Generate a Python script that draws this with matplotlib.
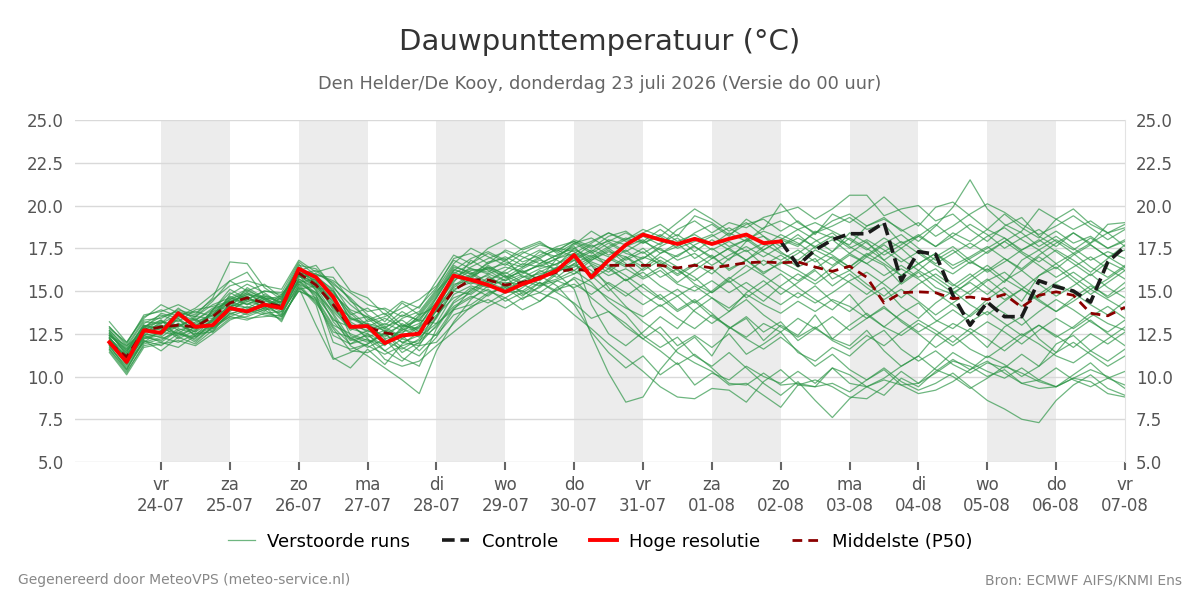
import numpy as np
import pandas as pd
import matplotlib
matplotlib.use('Agg')
import matplotlib.pyplot as plt
import matplotlib.dates as mdates

# ─── Data (6-hourly from 23-07 06:00)
#
start = '2026-07-23 06:00'
n_steps = 60

hres = [12.0, 10.85, 12.7, 12.55, 13.7, 12.9, 13.0, 14.0, 13.8, 14.2,
        14.0, 16.3, 15.8, 14.65, 12.9, 12.95, 11.95, 12.4, 12.5, 14.2,
        15.9, 15.65, 15.35, 14.95, 15.4, 15.75, 16.2, 17.1, 15.8, 16.8,
        17.7, 18.3, 18.0, 17.75, 18.05, 17.75, 18.05, 18.3, 17.8, 17.9]

# controle starts where the high resolution run stops (02-08 00:00)
controle_offset = 39
controle = [17.9, 16.5, 17.4, 18.0, 18.35, 18.35, 19.0, 15.6, 17.3, 17.15,
            14.75, 13.0, 14.35, 13.5, 13.5, 15.6, 15.25, 15.0, 14.35, 16.7,
            17.6]

p50 = [11.95, 11.15, 12.7, 12.9, 13.0, 12.9, 13.5, 14.3, 14.6, 14.3,
       14.1, 16.05, 15.35, 14.2, 12.9, 12.9, 12.55, 12.4, 12.55, 13.7,
       15.05, 15.65, 15.65, 15.35, 15.5, 15.8, 16.1, 16.3, 16.15, 16.5,
       16.5, 16.5, 16.5, 16.35, 16.5, 16.35, 16.5, 16.65, 16.7, 16.65,
       16.7, 16.4, 16.15, 16.45, 15.8, 14.3, 14.9, 14.95, 14.9, 14.55,
       14.65, 14.5, 14.8, 14.05, 14.75, 14.95, 14.75, 13.7, 13.55, 14.05]

members = [
    [12.3, 11.0, 12.5, 13.2, 13.0, 12.6, 13.8, 14.5, 14.9, 14.2,
     14.4, 16.2, 15.9, 15.0, 13.4, 13.1, 12.8, 12.2, 12.9, 14.6,
     16.2, 16.0, 16.4, 15.8, 16.1, 16.5, 16.9, 17.4, 17.0, 17.6,
     18.1, 17.8, 18.2, 17.5, 17.9, 18.3, 17.6, 18.0, 18.5, 18.1,
     17.7, 18.4, 18.8, 19.3, 18.6, 18.9, 17.8, 18.2, 17.6, 18.4,
     17.9, 18.6, 18.1, 17.4, 17.9, 18.5, 17.8, 18.2, 17.5, 18.0],
    [11.8, 10.4, 12.2, 12.4, 13.4, 12.3, 13.1, 14.0, 15.2, 14.6,
     13.9, 15.7, 15.1, 13.2, 12.1, 12.4, 11.8, 12.9, 13.3, 13.1,
     14.8, 15.3, 15.0, 14.6, 15.2, 15.9, 16.4, 16.0, 16.8, 17.3,
     17.0, 16.4, 17.2, 17.8, 16.9, 17.5, 16.8, 17.9, 18.2, 17.3,
     16.6, 17.4, 16.9, 16.2, 17.0, 16.5, 15.4, 16.1, 15.2, 14.8,
     15.6, 16.3, 15.5, 16.8, 17.4, 16.6, 17.2, 16.4, 15.8, 16.5],
    [12.6, 11.5, 13.0, 12.8, 12.5, 13.2, 13.6, 14.6, 14.2, 14.8,
     14.3, 15.5, 14.8, 12.0, 11.6, 11.9, 12.6, 11.4, 12.0, 13.9,
     16.1, 15.7, 16.5, 15.9, 14.8, 15.2, 16.0, 15.1, 12.4, 10.2,
     8.5, 8.8, 10.4, 11.6, 12.3, 11.2, 12.8, 13.4, 12.1, 13.0,
     12.4, 13.6, 12.2, 11.8, 12.7, 11.5, 10.6, 11.2, 12.4, 13.1,
     12.6, 11.7, 12.9, 13.5, 12.2, 11.4, 12.6, 13.3, 12.5, 11.8],
    [12.1, 10.9, 12.8, 13.0, 12.2, 12.7, 13.9, 14.4, 14.0, 14.1,
     14.6, 16.4, 15.6, 14.8, 13.9, 13.5, 12.9, 13.3, 12.6, 14.2,
     15.5, 16.8, 16.2, 15.6, 16.0, 16.6, 17.1, 17.6, 16.5, 15.2,
     14.1, 13.2, 12.5, 11.4, 10.8, 10.3, 9.5, 9.6, 8.9, 8.2,
     9.5, 9.4, 9.6, 9.1, 9.8, 10.4, 9.5, 9.6, 10.2, 10.9,
     10.6, 10.0, 10.4, 9.6, 9.3, 9.4, 9.9, 9.7, 9.0, 8.8],
    [12.4, 11.6, 12.9, 13.5, 13.8, 13.0, 13.3, 14.8, 15.4, 14.9,
     14.2, 16.0, 16.2, 15.3, 13.8, 13.0, 12.7, 12.0, 11.8, 13.5,
     15.0, 15.8, 16.7, 16.9, 15.8, 16.3, 16.6, 17.2, 17.8, 18.4,
     17.9, 18.2, 17.7, 18.6, 19.1, 18.4, 19.0, 18.7, 19.3, 19.6,
     19.9, 19.2, 19.8, 20.6, 20.6, 19.4, 19.8, 20.0, 19.1, 19.5,
     18.6, 17.9, 18.8, 19.3, 18.2, 17.6, 18.4, 17.8, 18.9, 19.0],
    [11.5, 10.2, 11.9, 12.2, 12.6, 12.0, 12.9, 13.6, 14.1, 13.7,
     13.8, 15.2, 14.4, 12.6, 12.3, 11.7, 12.2, 11.1, 10.6, 12.8,
     14.3, 14.9, 15.6, 16.2, 16.9, 17.4, 16.8, 16.2, 16.9, 17.5,
     16.8, 17.3, 16.5, 17.1, 17.6, 17.0, 16.3, 16.8, 17.4, 18.0,
     17.6, 18.5, 18.1, 17.7, 18.8, 19.2, 18.6, 17.9, 18.8, 19.9,
     21.5, 19.8, 18.9, 18.4, 17.6, 18.2, 17.5, 16.8, 17.3, 16.9],
    [12.0, 11.3, 12.4, 12.6, 13.1, 12.4, 13.4, 14.1, 14.3, 13.8,
     14.7, 16.6, 15.0, 13.6, 11.8, 11.2, 10.5, 9.8, 9.0, 11.5,
     13.2, 14.5, 15.3, 15.9, 15.4, 16.2, 15.8, 16.6, 17.1, 16.7,
     17.4, 16.6, 15.8, 16.3, 15.4, 14.9, 15.6, 14.6, 15.3, 16.0,
     15.2, 14.5, 13.9, 14.8, 13.6, 12.9, 13.7, 14.3, 13.3, 12.8,
     13.6, 14.5, 15.2, 14.4, 15.9, 16.4, 15.6, 14.8, 15.5, 16.2],
    [12.9, 11.8, 13.3, 13.4, 13.9, 13.6, 14.6, 16.7, 16.6, 15.2,
     14.5, 16.5, 16.3, 15.4, 14.6, 13.6, 13.0, 13.8, 13.2, 14.6,
     16.2, 16.9, 17.3, 16.8, 17.5, 17.9, 17.2, 17.8, 18.1, 17.5,
     18.0, 18.4, 18.9, 18.2, 19.4, 19.0, 18.3, 18.9, 19.2, 18.5,
     19.1, 18.3, 19.5, 19.0, 19.7, 20.5, 19.6, 18.8, 19.9, 20.2,
     19.4, 18.6, 19.5, 18.7, 18.1, 19.2, 19.8, 18.9, 18.4, 18.7],
    [11.7, 10.6, 12.1, 11.5, 12.3, 11.9, 12.7, 13.7, 13.4, 13.5,
     13.6, 15.4, 14.9, 13.8, 12.8, 12.5, 11.5, 12.2, 11.9, 13.0,
     14.1, 14.7, 14.3, 14.9, 15.0, 14.4, 15.2, 15.7, 14.6, 13.8,
     13.1, 12.2, 12.9, 11.8, 12.4, 11.7, 12.5, 11.3, 11.9, 12.6,
     11.4, 10.9, 11.7, 11.2, 12.1, 12.7, 11.6, 10.9, 11.5, 10.7,
     10.2, 10.8, 10.5, 11.3, 10.6, 11.9, 12.4, 11.5, 10.9, 11.6],
    [12.2, 11.1, 12.6, 12.9, 13.3, 12.8, 13.2, 14.2, 14.0, 14.5,
     13.9, 16.1, 15.8, 14.9, 13.7, 12.8, 12.4, 12.6, 12.9, 13.8,
     15.4, 15.6, 15.9, 15.2, 15.8, 16.0, 16.3, 16.5, 16.0, 16.9,
     16.4, 17.0, 16.6, 15.9, 16.5, 17.1, 16.2, 16.8, 16.0, 16.7,
     16.2, 15.6, 16.4, 17.1, 16.6, 15.9, 16.5, 15.8, 16.3, 15.4,
     14.8, 15.6, 16.1, 15.3, 14.6, 15.4, 14.9, 14.2, 13.6, 14.4],
    [12.5, 11.4, 13.1, 13.6, 13.2, 13.9, 14.1, 14.4, 14.7, 14.0,
     14.8, 15.9, 15.3, 14.1, 12.7, 13.3, 13.7, 12.8, 13.5, 14.8,
     16.4, 16.1, 15.5, 15.1, 15.6, 15.3, 16.1, 16.8, 17.3, 16.4,
     15.6, 16.3, 17.0, 16.4, 15.8, 14.9, 15.7, 16.5, 15.9, 15.2,
     14.6, 15.3, 14.4, 13.8, 14.6, 15.2, 14.1, 13.4, 14.3, 15.0,
     14.2, 13.6, 14.4, 15.1, 14.5, 13.8, 14.6, 15.3, 14.7, 15.5],
    [11.9, 10.7, 12.3, 12.1, 12.8, 12.5, 13.0, 13.8, 14.5, 14.3,
     13.5, 15.0, 14.6, 13.0, 12.5, 12.1, 11.9, 12.8, 12.3, 13.1,
     13.9, 15.1, 15.6, 16.1, 15.5, 15.9, 15.3, 14.2, 12.6, 11.4,
     10.5, 11.2, 10.1, 10.8, 9.5, 10.2, 9.8, 10.6, 10.0, 9.6,
     10.3, 9.6, 10.5, 10.1, 9.4, 9.9, 10.6, 11.2, 10.4, 10.0,
     9.3, 9.9, 10.6, 10.2, 9.7, 9.4, 10.1, 10.8, 9.9, 10.3],
    [13.2, 12.0, 13.5, 13.9, 13.5, 14.0, 14.8, 15.6, 15.0, 14.6,
     14.1, 15.8, 16.0, 15.6, 14.9, 14.2, 13.9, 13.0, 12.8, 14.0,
     15.7, 16.4, 16.9, 17.3, 16.7, 17.1, 17.6, 17.9, 17.3, 18.0,
     17.7, 17.2, 17.8, 18.3, 17.6, 16.9, 17.5, 18.0, 17.3, 16.8,
     17.4, 16.7, 17.3, 18.1, 17.5, 16.8, 15.9, 16.6, 17.2, 16.5,
     17.0, 17.6, 16.9, 16.3, 17.1, 17.8, 18.4, 17.7, 17.0, 17.4],
    [12.3, 10.8, 12.0, 12.7, 12.9, 13.4, 12.6, 13.9, 14.4, 14.1,
     13.2, 15.3, 14.2, 11.1, 10.5, 11.6, 10.7, 11.9, 12.6, 12.4,
     13.6, 14.0, 14.8, 15.3, 14.7, 15.5, 15.0, 15.8, 15.3, 14.6,
     14.0, 13.5, 14.2, 13.4, 12.8, 13.6, 12.9, 12.3, 13.1, 12.6,
     13.4, 12.8, 12.2, 13.0, 13.7, 12.9, 12.4, 13.1, 12.5, 11.8,
     12.5, 13.2, 12.6, 11.9, 12.7, 13.4, 12.8, 13.5, 14.1, 13.4],
    [12.0, 11.2, 12.9, 12.5, 13.5, 13.1, 13.7, 14.3, 14.8, 14.4,
     14.2, 16.3, 15.5, 14.5, 13.4, 12.9, 12.3, 13.1, 12.5, 13.9,
     15.8, 16.3, 16.0, 15.6, 16.3, 16.8, 16.5, 17.5, 17.9, 18.4,
     18.0, 18.6, 18.2, 19.0, 19.8, 19.2, 18.5, 19.0, 18.2, 17.6,
     18.3, 17.5, 18.0, 17.2, 17.9, 16.8, 17.5, 16.6, 17.2, 16.3,
     16.9, 17.5, 18.1, 17.3, 16.7, 17.4, 16.8, 16.1, 16.9, 17.7],
    [11.6, 10.3, 11.8, 12.0, 11.7, 12.4, 12.9, 13.5, 13.9, 13.6,
     13.4, 15.1, 15.3, 14.0, 13.1, 12.2, 11.0, 10.6, 10.9, 11.8,
     12.6, 13.4, 14.1, 14.6, 13.9, 14.4, 15.1, 15.4, 14.8, 15.5,
     14.9, 14.2, 14.8, 13.9, 14.5, 13.7, 12.8, 13.5, 12.6, 13.2,
     12.1, 12.8, 13.5, 12.7, 13.4, 14.1, 13.2, 12.5, 11.7, 12.4,
     11.6, 11.1, 11.8, 12.5, 11.9, 11.2, 10.8, 11.5, 12.2, 12.9],
    [12.7, 11.7, 13.2, 13.1, 14.0, 13.3, 13.9, 15.1, 14.5, 15.0,
     14.9, 16.7, 15.9, 15.8, 14.4, 13.8, 14.0, 13.5, 14.1, 15.2,
     16.9, 17.2, 16.6, 17.0, 16.5, 17.3, 17.0, 17.7, 18.5, 17.9,
     17.3, 17.9, 17.4, 17.0, 17.7, 18.2, 18.7, 18.1, 17.4, 18.0,
     18.6, 18.0, 17.3, 18.4, 17.8, 17.1, 17.7, 18.3, 17.6, 18.2,
     18.9, 18.3, 17.5, 18.1, 18.6, 17.9, 17.2, 17.8, 18.4, 17.6],
    [12.2, 10.9, 12.4, 13.0, 12.5, 12.2, 13.3, 14.0, 13.6, 14.0,
     14.4, 15.6, 14.7, 13.4, 12.2, 12.7, 12.1, 11.6, 12.2, 13.4,
     15.1, 15.5, 15.2, 15.7, 16.2, 15.6, 16.4, 16.8, 16.2, 15.4,
     14.7, 15.4, 14.6, 13.8, 14.4, 13.5, 12.9, 12.2, 11.6, 12.3,
     11.5, 10.6, 11.3, 10.4, 9.8, 10.5, 9.7, 9.2, 9.6, 10.2,
     9.4, 8.6, 8.1, 7.5, 7.3, 8.6, 9.5, 10.1, 9.3, 8.9],
    [12.8, 12.0, 13.4, 14.2, 13.7, 13.5, 14.4, 15.6, 16.1, 14.7,
     14.3, 15.9, 15.2, 15.0, 13.6, 14.0, 13.2, 14.3, 13.6, 14.9,
     16.5, 16.0, 16.6, 17.4, 17.0, 16.6, 17.1, 17.5, 16.8, 17.4,
     16.6, 15.8, 16.4, 15.5, 16.2, 16.9, 17.5, 16.8, 16.1, 16.6,
     17.2, 17.9, 18.4, 17.6, 17.0, 17.7, 16.9, 16.2, 17.0, 17.6,
     16.8, 16.1, 16.7, 17.4, 18.0, 17.3, 16.6, 15.9, 16.7, 16.2],
    [11.4, 10.1, 11.7, 11.9, 12.1, 11.8, 12.5, 13.3, 13.7, 14.0,
     13.7, 15.4, 14.3, 12.8, 11.5, 11.4, 11.9, 12.4, 11.5, 12.5,
     14.0, 14.6, 15.1, 14.4, 14.9, 15.5, 14.9, 14.3, 13.4, 13.8,
     12.9, 12.2, 11.5, 10.7, 11.3, 10.5, 9.6, 9.5, 10.2, 9.5,
     9.6, 9.4, 10.5, 9.6, 9.4, 9.8, 9.5, 9.0, 9.2, 9.7,
     10.4, 10.9, 10.2, 9.6, 9.8, 10.5, 9.8, 9.4, 9.9, 9.5],
    [12.4, 11.5, 12.7, 13.3, 12.7, 13.0, 13.6, 14.7, 14.2, 14.6,
     14.1, 16.0, 15.4, 14.4, 13.2, 12.6, 12.9, 12.3, 13.0, 14.4,
     15.9, 15.4, 16.0, 16.4, 16.1, 15.7, 16.9, 17.2, 16.6, 16.1,
     16.9, 17.5, 16.7, 16.0, 16.6, 16.0, 16.9, 17.4, 16.5, 17.1,
     16.4, 16.9, 15.7, 16.2, 15.4, 14.7, 15.5, 16.2, 15.6, 14.9,
     15.5, 14.8, 15.6, 16.2, 15.4, 14.7, 15.3, 16.0, 15.2, 14.6],
    [12.6, 11.2, 12.6, 12.8, 13.6, 13.8, 13.5, 14.5, 15.0, 15.4,
     14.6, 16.2, 16.5, 15.2, 14.2, 13.4, 12.6, 13.4, 13.8, 15.1,
     16.6, 17.5, 17.0, 16.5, 17.2, 17.7, 17.4, 17.9, 17.5, 18.2,
     18.5, 17.8, 18.3, 17.7, 18.4, 18.9, 18.2, 19.2, 18.6, 20.1,
     19.0, 18.4, 19.1, 19.5, 18.8, 19.3, 18.5, 19.0, 18.2, 18.8,
     19.5, 20.1, 19.6, 18.9, 18.3, 18.8, 19.4, 18.7, 18.0, 18.6],
    [12.1, 10.8, 12.5, 12.3, 13.0, 13.3, 12.8, 13.7, 13.9, 14.3,
     14.0, 15.5, 15.7, 14.6, 12.4, 12.0, 12.5, 13.0, 12.7, 13.6,
     14.6, 15.0, 15.8, 15.3, 15.0, 15.7, 16.2, 16.4, 17.0, 16.5,
     15.9, 15.2, 14.5, 15.1, 14.3, 15.0, 15.8, 15.1, 14.4, 15.3,
     16.0, 15.4, 16.1, 15.5, 14.8, 15.6, 16.3, 15.7, 14.9, 14.2,
     13.5, 14.3, 13.7, 13.0, 13.8, 14.5, 13.9, 13.2, 12.6, 13.3],
    [11.9, 11.0, 12.2, 12.6, 12.4, 12.9, 13.2, 14.0, 14.6, 14.2,
     13.8, 15.6, 14.9, 13.3, 12.9, 13.1, 12.2, 12.5, 13.6, 14.1,
     15.2, 15.9, 16.3, 15.8, 16.4, 16.9, 16.1, 16.6, 15.9, 15.0,
     15.7, 14.8, 14.1, 14.7, 13.8, 13.1, 13.8, 14.5, 13.6, 12.9,
     12.3, 12.9, 12.1, 11.6, 12.4, 11.8, 12.6, 13.3, 12.7, 12.0,
     12.8, 12.2, 11.5, 12.3, 13.0, 12.4, 11.7, 12.5, 11.9, 12.6],
    [12.5, 11.3, 12.8, 13.7, 13.4, 12.7, 13.9, 14.9, 14.4, 14.7,
     14.5, 16.4, 15.4, 14.2, 13.5, 12.9, 13.4, 12.9, 13.7, 15.0,
     16.0, 16.6, 17.2, 16.7, 16.4, 17.0, 17.4, 17.0, 17.7, 17.1,
     17.6, 18.0, 17.2, 17.6, 18.1, 17.4, 17.9, 17.3, 17.8, 17.2,
     16.8, 17.6, 17.1, 16.4, 17.1, 17.8, 18.3, 17.5, 16.8, 17.4,
     16.6, 17.3, 17.9, 17.2, 16.5, 15.8, 16.4, 17.0, 16.3, 15.7],
    [12.3, 11.1, 12.3, 12.5, 13.1, 12.6, 13.3, 14.2, 14.7, 13.9,
     14.1, 15.9, 15.5, 13.9, 13.0, 12.3, 12.7, 12.0, 12.4, 13.5,
     15.3, 16.0, 15.4, 15.0, 15.6, 16.1, 16.6, 17.0, 14.2, 12.5,
     11.8, 12.6, 13.5, 12.8, 13.9, 14.6, 13.8, 14.9, 15.6, 14.8,
     15.5, 16.2, 15.3, 16.0, 15.2, 14.5, 15.1, 14.4, 13.6, 14.3,
     15.0, 15.7, 14.9, 14.1, 14.8, 15.5, 16.1, 15.4, 14.6, 15.2],
    [12.7, 11.6, 13.0, 12.7, 13.8, 13.5, 14.2, 14.6, 15.1, 14.5,
     14.7, 16.3, 15.8, 15.1, 13.3, 13.5, 12.8, 13.6, 13.3, 14.7,
     16.3, 15.8, 16.4, 16.0, 16.6, 16.4, 16.9, 17.8, 17.2, 17.8,
     17.2, 16.9, 17.6, 18.1, 17.3, 18.0, 17.4, 16.8, 17.6, 18.3,
     17.8, 17.1, 16.5, 17.2, 16.6, 17.3, 17.9, 17.2, 16.5, 16.0,
     16.7, 16.2, 16.9, 16.2, 17.0, 16.3, 17.1, 17.7, 17.0, 16.4],
    [11.8, 10.5, 12.0, 12.3, 12.0, 12.5, 12.6, 13.4, 13.5, 13.9,
     13.3, 15.2, 13.0, 11.0, 11.4, 11.9, 12.5, 11.7, 11.2, 12.3,
     13.9, 14.2, 14.9, 15.2, 14.5, 15.3, 15.6, 15.2, 15.7, 16.3,
     15.6, 16.1, 15.3, 14.7, 15.3, 14.6, 14.0, 14.8, 14.2, 13.7,
     14.4, 13.8, 14.5, 14.1, 13.4, 14.0, 13.3, 12.6, 13.2, 13.9,
     13.2, 13.8, 13.1, 12.4, 13.0, 12.3, 12.9, 13.7, 13.1, 12.7],
    [12.9, 11.9, 13.6, 13.8, 14.2, 13.7, 14.5, 15.3, 15.6, 15.3,
     15.1, 16.8, 16.1, 16.4, 15.0, 14.6, 13.6, 14.4, 14.0, 15.6,
     17.1, 16.6, 17.5, 18.0, 17.4, 17.8, 17.3, 18.0, 17.6, 17.9,
     18.4, 17.9, 18.6, 17.9, 18.3, 17.7, 18.4, 17.9, 18.7, 19.1,
     18.6, 19.0, 18.5, 18.0, 17.4, 18.1, 17.5, 18.2, 18.9, 18.1,
     17.5, 18.2, 18.7, 18.0, 17.4, 18.0, 17.4, 18.1, 17.5, 17.9],
    [12.0, 10.7, 12.4, 12.0, 12.7, 12.1, 12.9, 13.9, 13.8, 14.2,
     13.6, 15.7, 15.2, 13.7, 12.2, 11.8, 11.3, 11.8, 12.1, 12.9,
     14.4, 15.2, 14.7, 15.4, 15.9, 15.4, 15.7, 16.2, 15.5, 14.4,
     13.6, 12.4, 11.7, 12.3, 11.2, 10.6, 11.4, 10.5, 9.6, 8.9,
     9.7, 8.6, 7.6, 8.7, 9.4, 8.9, 9.9, 9.4, 10.3, 11.0,
     10.4, 11.2, 10.7, 10.0, 10.6, 11.4, 12.0, 11.3, 10.6, 11.2],
    [12.2, 11.4, 12.9, 13.2, 12.9, 13.5, 13.4, 14.4, 14.8, 14.6,
     14.4, 16.1, 15.6, 14.3, 13.0, 12.7, 13.1, 12.7, 13.4, 14.3,
     15.6, 16.2, 16.3, 16.6, 16.1, 16.5, 16.3, 16.9, 17.4, 17.0,
     16.5, 16.9, 17.5, 16.8, 17.2, 16.5, 17.1, 17.6, 17.0, 17.6,
     18.1, 17.6, 18.2, 17.5, 18.0, 17.4, 16.7, 17.3, 16.6, 17.2,
     17.8, 17.2, 17.9, 18.5, 19.8, 19.2, 18.6, 19.1, 18.4, 18.9],
    [11.6, 10.4, 12.1, 11.8, 12.5, 12.3, 12.8, 13.5, 13.3, 13.7,
     13.5, 15.0, 14.5, 12.4, 11.9, 12.2, 11.5, 10.9, 11.8, 12.0,
     13.1, 14.1, 14.5, 14.0, 14.6, 14.9, 14.5, 13.6, 12.8, 11.9,
     11.1, 10.3, 9.4, 8.8, 8.7, 9.3, 9.2, 8.5, 9.7, 10.4,
     9.5, 9.8, 9.4, 8.8, 8.7, 9.4, 10.3, 9.6, 10.5, 11.4,
     10.8, 10.3, 9.9, 10.5, 9.8, 9.4, 9.9, 10.4, 10.0, 9.3],
    [12.4, 11.8, 12.6, 13.1, 13.6, 13.3, 14.0, 14.3, 14.9, 14.5,
     14.0, 16.2, 16.0, 15.5, 14.5, 13.2, 13.5, 14.0, 14.5, 15.3,
     16.8, 16.3, 16.1, 16.8, 17.3, 16.9, 17.5, 17.3, 16.7, 16.3,
     17.0, 16.2, 16.8, 16.2, 15.6, 16.3, 15.5, 16.1, 16.8, 16.2,
     15.6, 16.3, 17.0, 16.4, 17.2, 16.6, 15.9, 16.6, 15.8, 15.1,
     15.8, 16.5, 15.7, 15.1, 15.9, 16.6, 15.8, 15.1, 15.7, 16.4],
    [12.0, 11.0, 12.9, 13.3, 12.3, 12.9, 13.8, 14.1, 14.5, 15.0,
     14.8, 16.0, 14.5, 12.9, 11.9, 12.5, 12.0, 12.7, 13.1, 14.0,
     15.0, 14.8, 15.5, 15.5, 15.4, 14.9, 15.6, 16.0, 16.5, 15.9,
     16.3, 15.7, 16.2, 15.4, 15.0, 15.6, 14.9, 15.5, 14.8, 14.2,
     14.9, 14.3, 14.9, 15.6, 16.1, 15.4, 14.6, 15.4, 16.0, 15.3,
     16.0, 15.2, 14.5, 15.1, 14.4, 13.8, 14.4, 15.1, 14.5, 13.9],
]

DAY_NAMES = ['ma', 'di', 'wo', 'do', 'vr', 'za', 'zo']

title = 'Dauwpunttemperatuur (°C)'
subtitle = 'Den Helder/De Kooy, donderdag 23 juli 2026 (Versie do 00 uur)'
footer_left = 'Gegenereerd door MeteoVPS (meteo-service.nl)'
footer_right = 'Bron: ECMWF AIFS/KNMI Ens'

# ─── Build time axis
#
times = pd.date_range(start, periods=n_steps, freq='6h')
for m in members:
    assert len(m) == n_steps
assert len(p50) == n_steps

fig = plt.figure(figsize=(12, 6), dpi=100)
ax = fig.add_axes([0.0625, 0.23, 0.875, 0.57])

# alternating day shading
ticks = pd.date_range('2026-07-24', '2026-08-07', freq='D')
for i, d in enumerate(ticks[:-1]):
    if i % 2 == 0:
        ax.axvspan(d, d + pd.Timedelta(days=1), color='#ececec', zorder=0, lw=0)

# ─── Lines
#
for i, m in enumerate(members):
    ax.plot(times, m, color='#2a9444', lw=0.9, alpha=0.68, zorder=2,
            label='Verstoorde runs' if i == 0 else None)

ax.plot(times[controle_offset:controle_offset + len(controle)], controle,
        color='#1a1a1a', lw=2.6, ls=(0, (3.5, 1.6)), zorder=4, label='Controle')
ax.plot(times[:len(hres)], hres, color='#ff0000', lw=2.8, zorder=5,
        label='Hoge resolutie')
ax.plot(times, p50, color='#8b0000', lw=2.0, ls=(0, (3.5, 2.2)), zorder=4,
        label='Middelste (P50)')

# ─── Axes styling
#
ax.set_xlim(pd.Timestamp('2026-07-22 18:00'), pd.Timestamp('2026-08-07 00:00'))
ax.set_ylim(5, 25)
ax.set_yticks(np.arange(5, 25.1, 2.5))
ax.yaxis.set_major_formatter(matplotlib.ticker.FormatStrFormatter('%.1f'))
ax.grid(axis='y', color='#d9d9d9', lw=1, zorder=1)
ax.set_axisbelow(True)

ax.set_xticks(ticks)
ax.set_xticklabels([f"{DAY_NAMES[d.weekday()]}\n{d.strftime('%d-%m')}" for d in ticks],
                   linespacing=1.25)
ax.tick_params(axis='x', length=6, width=1.5, color='#666666', labelsize=12,
               labelcolor='#555555', pad=4)
ax.tick_params(axis='y', length=0, labelsize=12, labelcolor='#555555', pad=8,
               labelright=True, right=False)

for side in ['top', 'left', 'bottom']:
    ax.spines[side].set_visible(False)
ax.spines['right'].set_color('#e3e3e3')

# ─── Titles, legend, footer
#
fig.text(0.5, 0.93, title, ha='center', va='center', fontsize=21, color='#333333')
fig.text(0.5, 0.86, subtitle, ha='center', va='center', fontsize=12.8, color='#666666')

leg = fig.legend(loc='center', bbox_to_anchor=(0.5, 0.097), ncol=4, frameon=False,
                 fontsize=13, handlelength=1.5, handletextpad=0.7, columnspacing=1.75)

fig.text(0.015, 0.033, footer_left, ha='left', va='center', fontsize=10, color='#888888')
fig.text(0.985, 0.033, footer_right, ha='right', va='center', fontsize=10, color='#888888')

fig.savefig('out.png', dpi=100)
